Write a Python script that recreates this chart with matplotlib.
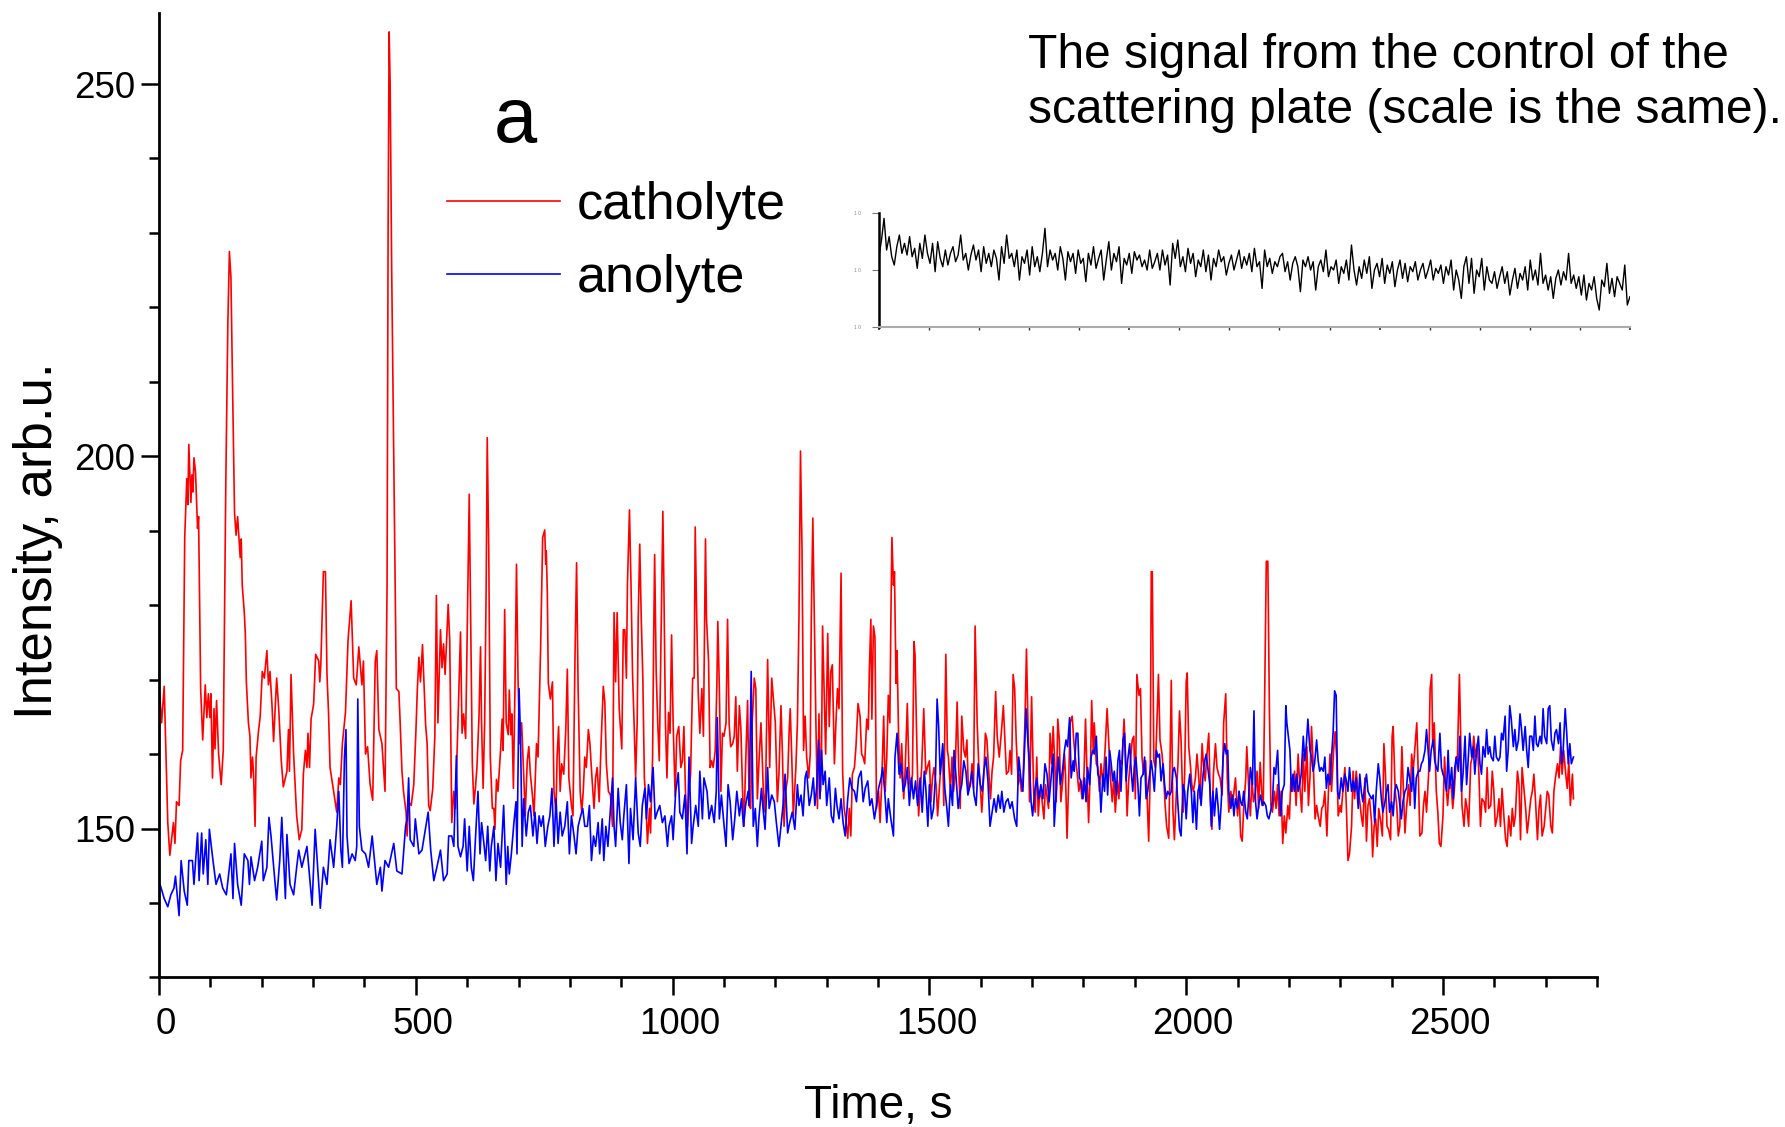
import matplotlib
matplotlib.use("Agg")
import matplotlib.pyplot as plt
import matplotlib.transforms as mtransforms
import numpy as np
from matplotlib.ticker import MultipleLocator

# catholyte (red) in five stretches of time
cath_t1 = [1, 5, 10, 17, 21, 28, 31, 34, 39, 42,
           46, 50, 54, 56, 58, 62, 64, 66, 68, 71,
           75, 77, 81, 85, 90, 93, 96, 99, 101, 104,
           107, 109, 112, 116, 121, 125, 130, 134, 137, 140,
           143, 147, 150, 153, 158, 160, 162, 166, 168, 170,
           174, 177, 179, 182, 184, 187, 189, 194, 197, 201,
           205, 210, 213, 216, 220, 223, 229, 233, 238, 242,
           249, 252, 254, 257, 262, 268, 273, 278, 281, 285,
           288, 290, 293, 296, 301, 305, 311, 313, 315, 320,
           324, 327, 330, 333, 340, 346, 350, 353, 357, 363,
           368, 374, 379, 384, 389, 395, 398, 402, 406, 411,
           416, 421, 424, 428, 434, 440, 444, 446, 448, 450,
           453, 457, 462, 467, 469, 473, 476, 481, 483, 486,
           491, 496, 500, 503, 506, 509, 513, 519, 522, 525,
           528, 533, 537, 540, 543, 548, 551, 554, 557, 563,
           566, 570, 574]
cath_v1 = [168.4, 164.2, 169.1, 150.8, 146.4, 150.8, 148.0, 153.6, 153.1, 159.1,
           160.5, 189.1, 197.0, 193.5, 201.6, 193.8, 197.5, 195.2, 199.8, 197.9,
           190.3, 191.9, 168.8, 161.9, 169.3, 164.9, 168.1, 164.9, 168.1, 156.8,
           166.1, 160.7, 167.2, 160.0, 155.9, 160.5, 196.5, 218.0, 227.5, 224.0,
           210.0, 192.4, 189.4, 191.9, 186.4, 188.9, 182.7, 179.0, 176.2, 169.7,
           164.2, 162.4, 156.8, 159.6, 157.3, 150.3, 159.6, 163.3, 165.1, 171.1,
           170.2, 173.9, 169.3, 171.1, 166.5, 161.7, 170.2, 166.1, 159.1, 155.6,
           157.7, 163.3, 157.7, 170.7, 160.0, 151.7, 148.5, 149.9, 157.3, 160.5,
           158.2, 162.8, 158.2, 164.7, 166.7, 173.4, 172.5, 169.7, 172.0, 184.5,
           184.5, 170.7, 165.6, 158.2, 155.0, 152.2, 156.8, 155.9, 161.4, 165.6,
           175.3, 180.6, 170.2, 169.3, 174.4, 169.3, 172.5, 160.0, 161.0, 155.9,
           153.8, 172.5, 173.9, 163.3, 161.4, 155.0, 182.7, 230.0, 257.0, 250.0,
           225.0, 200.0, 168.8, 168.4, 165.1, 157.7, 155.0, 152.2, 149.0, 153.6,
           153.1, 155.9, 162.8, 168.8, 173.0, 169.7, 174.7, 164.0, 161.4, 153.1,
           152.4, 155.4, 162.4, 181.3, 164.2, 176.7, 171.6, 174.8, 170.7, 180.1,
           175.3, 150.8, 155.0]

cath_t2 = [577, 582, 587, 590, 593, 597, 600, 604, 606, 610,
           613, 616, 619, 623, 626, 628, 631, 634, 637, 639,
           642, 645, 649, 652, 654, 657, 660, 665, 668, 670,
           673, 676, 680, 682, 685, 687, 690, 693, 696, 699,
           702, 706, 710, 713, 717, 720, 723, 727, 730, 735,
           738, 743, 747, 751, 753, 754, 756, 758, 762, 766,
           769, 773, 775, 778, 781, 784, 788, 792, 795, 798,
           803, 806, 810, 813, 816, 820, 823, 826, 829, 832,
           836, 839, 843, 847, 850, 853, 857, 861, 865, 868,
           871, 875, 879, 883, 886, 889, 892, 896, 899, 901,
           904, 907, 910, 912, 916, 919, 922, 925, 928, 931,
           933, 936, 939, 942, 945, 948, 951, 955, 957, 961,
           963, 965, 968, 971, 974, 977, 981, 983, 986, 989,
           992, 995, 998, 1001, 1005, 1008, 1012, 1016, 1019, 1022,
           1025, 1029, 1032, 1035, 1039, 1042, 1044, 1047, 1050, 1053,
           1057, 1060, 1064, 1066, 1070, 1073, 1076, 1079, 1083, 1086,
           1088, 1091, 1094, 1097, 1100, 1104, 1107, 1110, 1113, 1117,
           1120, 1123, 1126, 1130, 1133, 1136, 1139, 1142, 1146, 1149]
cath_v2 = [152.7, 164.2, 176.4, 162.8, 165.4, 162.1, 175.8, 194.9, 182.7, 158.7,
           153.3, 155.4, 158.2, 165.1, 174.4, 164.2, 155.4, 164.2, 182.7, 202.5,
           187.3, 159.6, 152.7, 152.7, 149.9, 156.6, 155.0, 160.5, 164.7, 160.5,
           179.4, 164.2, 162.6, 168.6, 162.6, 165.4, 155.4, 168.8, 185.5, 170.2,
           161.4, 164.2, 157.3, 151.7, 159.1, 161.0, 157.3, 154.5, 151.7, 161.4,
           159.6, 174.4, 189.1, 190.1, 185.5, 187.3, 181.8, 169.5, 167.4, 169.7,
           155.0, 152.2, 159.6, 163.7, 155.0, 158.7, 157.3, 163.3, 171.4, 156.8,
           153.1, 151.7, 173.4, 185.7, 168.8, 155.0, 152.2, 155.0, 159.6, 158.2,
           163.3, 161.4, 156.8, 152.7, 156.8, 158.2, 153.6, 161.9, 169.1, 167.0,
           158.7, 155.0, 154.5, 150.3, 179.0, 169.7, 179.0, 166.1, 162.8, 160.7,
           176.7, 176.7, 170.2, 182.7, 192.8, 182.7, 170.7, 164.2, 156.8, 164.2,
           178.1, 188.2, 178.1, 170.2, 156.8, 153.6, 148.0, 152.7, 149.4, 159.6,
           174.8, 186.8, 171.1, 164.2, 159.1, 173.4, 192.6, 182.7, 164.2, 156.8,
           165.6, 162.8, 176.0, 164.2, 154.3, 162.4, 163.7, 158.2, 159.1, 163.7,
           155.0, 150.3, 155.0, 157.3, 170.2, 170.2, 190.5, 178.1, 167.9, 162.8,
           168.8, 162.4, 188.9, 178.1, 172.5, 158.2, 159.1, 158.2, 160.5, 168.8,
           177.8, 168.8, 155.0, 162.8, 162.4, 164.2, 178.1, 164.2, 161.0, 161.4,
           162.4, 167.7, 157.7, 166.5, 163.3, 155.4, 150.3, 158.2, 167.2, 153.1]

cath_t3 = [1152, 1155, 1159, 1162, 1165, 1168, 1172, 1174, 1178, 1181,
           1185, 1189, 1193, 1196, 1200, 1204, 1207, 1211, 1214, 1217,
           1220, 1224, 1227, 1229, 1232, 1235, 1240, 1243, 1246, 1249,
           1252, 1255, 1258, 1261, 1265, 1268, 1270, 1273, 1276, 1279,
           1282, 1285, 1288, 1290, 1292, 1296, 1298, 1302, 1305, 1308,
           1311, 1315, 1318, 1321, 1324, 1328, 1331, 1334, 1337, 1341,
           1344, 1347, 1350, 1354, 1357, 1361, 1365, 1368, 1371, 1374,
           1378, 1381, 1383, 1386, 1388, 1391, 1394, 1397, 1401, 1404,
           1407, 1411, 1414, 1417, 1420, 1423, 1425, 1427, 1430, 1432,
           1435, 1437, 1440, 1443, 1446, 1450, 1453, 1457, 1460, 1463,
           1467, 1470, 1472, 1476, 1479, 1482, 1485, 1489, 1493, 1496,
           1500, 1503, 1506, 1509, 1513, 1516, 1519, 1522, 1526, 1528,
           1532, 1535, 1537, 1541, 1544, 1547, 1550, 1554, 1557, 1560,
           1563, 1567, 1570, 1573, 1576, 1580, 1583, 1586, 1589, 1593,
           1596, 1599, 1602, 1606, 1609, 1612, 1615, 1619, 1622, 1625,
           1629, 1632, 1636, 1640, 1644, 1647, 1650, 1654, 1657, 1660,
           1663, 1666, 1669, 1673, 1676, 1679, 1682, 1686, 1689, 1692,
           1695, 1699, 1703, 1706, 1709, 1712, 1715, 1719, 1723, 1726]
cath_v3 = [152.7, 164.2, 170.2, 168.8, 154.0, 158.7, 164.2, 160.5, 152.2, 155.0,
           172.7, 158.2, 170.2, 167.7, 164.2, 153.6, 157.3, 166.5, 159.6, 150.3,
           155.0, 156.8, 163.3, 166.1, 159.6, 151.7, 158.2, 164.2, 178.1, 200.7,
           187.3, 160.5, 165.1, 159.6, 156.8, 160.0, 178.1, 191.7, 178.1, 164.2,
           152.7, 165.4, 155.0, 160.5, 177.2, 166.1, 160.0, 176.2, 163.7, 171.1,
           172.0, 158.7, 164.2, 168.8, 166.1, 184.3, 157.7, 152.7, 151.3, 148.7,
           152.7, 149.0, 157.3, 158.2, 161.0, 166.8, 165.1, 160.0, 159.6, 158.7,
           164.7, 163.3, 171.1, 178.1, 164.7, 177.2, 175.7, 152.7, 155.0, 150.8,
           155.9, 165.1, 155.0, 159.6, 167.9, 164.2, 178.1, 189.1, 182.7, 184.5,
           169.5, 173.9, 162.4, 156.8, 161.4, 154.0, 158.2, 166.8, 158.2, 155.0,
           157.3, 175.1, 173.4, 159.6, 151.7, 155.0, 158.2, 166.1, 157.3, 158.2,
           159.1, 153.6, 156.8, 158.2, 155.9, 151.7, 155.0, 158.2, 160.0, 153.1,
           173.4, 160.5, 159.6, 155.0, 159.6, 155.0, 157.3, 167.0, 158.2, 152.7,
           165.1, 160.5, 159.6, 161.9, 155.0, 155.9, 158.7, 155.4, 177.2, 164.2,
           158.7, 155.9, 152.2, 157.3, 162.8, 161.9, 158.2, 154.0, 157.7, 159.6,
           168.4, 162.4, 159.6, 162.8, 166.5, 161.9, 157.3, 157.7, 160.5, 157.3,
           170.7, 168.8, 161.9, 155.9, 157.3, 155.0, 155.9, 164.2, 174.1, 164.2,
           153.6, 167.7, 155.0, 152.2, 159.6, 151.7, 155.0, 154.0, 151.3, 155.9]

cath_t4 = [1732, 1735, 1738, 1741, 1745, 1747, 1750, 1753, 1756, 1760,
           1763, 1765, 1768, 1771, 1774, 1778, 1781, 1784, 1788, 1791,
           1794, 1797, 1801, 1804, 1807, 1810, 1814, 1816, 1819, 1821,
           1825, 1828, 1831, 1834, 1838, 1842, 1846, 1849, 1852, 1856,
           1859, 1862, 1866, 1869, 1872, 1875, 1879, 1882, 1885, 1888,
           1892, 1895, 1898, 1901, 1904, 1908, 1911, 1914, 1917, 1921,
           1924, 1927, 1930, 1932, 1934, 1937, 1940, 1943, 1946, 1949,
           1953, 1956, 1959, 1962, 1966, 1968, 1971, 1974, 1977, 1981,
           1984, 1987, 1990, 1994, 1997, 2000, 2002, 2005, 2008, 2011,
           2014, 2018, 2021, 2024, 2027, 2031, 2034, 2037, 2040, 2044,
           2047, 2050, 2053, 2057, 2060, 2063, 2066, 2070, 2073, 2077,
           2080, 2083, 2087, 2090, 2093, 2096, 2100, 2103, 2106, 2109,
           2112, 2116, 2118, 2122, 2125, 2128, 2131, 2135, 2138, 2141,
           2144, 2147, 2150, 2153, 2156, 2159, 2162, 2165, 2168, 2172,
           2175, 2178, 2181, 2185, 2188, 2191, 2194, 2198, 2201, 2204,
           2207, 2211, 2214, 2218, 2221, 2225, 2228, 2231, 2235, 2238,
           2241, 2244, 2248, 2251, 2254, 2257, 2261, 2264, 2267, 2270,
           2274, 2277, 2280, 2283, 2287, 2290, 2293, 2296, 2300]
cath_v4 = [152.7, 162.8, 158.7, 163.7, 157.3, 153.6, 164.7, 161.9, 153.6, 156.8,
           160.0, 157.3, 148.7, 155.9, 164.2, 165.1, 161.9, 159.6, 157.3, 155.0,
           156.4, 154.0, 157.3, 164.7, 157.3, 150.8, 159.6, 167.2, 160.5, 164.2,
           158.7, 158.2, 155.0, 158.7, 155.9, 160.5, 166.1, 161.9, 157.3, 153.6,
           156.8, 152.2, 156.4, 154.0, 159.1, 158.7, 164.7, 159.6, 151.7, 156.4,
           159.6, 161.9, 162.4, 154.0, 170.7, 167.9, 168.8, 159.6, 157.3, 159.1,
           154.0, 148.3, 157.3, 184.5, 184.5, 159.1, 158.2, 164.2, 170.7, 161.9,
           160.0, 157.3, 153.1, 150.3, 148.7, 156.4, 169.9, 152.7, 148.5, 155.0,
           158.7, 165.8, 161.9, 152.2, 157.3, 169.7, 170.9, 161.0, 158.7, 155.9,
           155.0, 156.8, 160.0, 157.3, 154.0, 161.4, 158.2, 156.4, 159.6, 162.8,
           154.0, 149.9, 157.3, 161.4, 158.2, 157.3, 156.8, 154.5, 164.2, 168.1,
           156.8, 152.2, 155.0, 153.1, 155.0, 156.8, 151.7, 155.0, 149.0, 148.3,
           152.7, 156.8, 161.0, 155.0, 151.7, 156.8, 153.6, 155.0, 157.7, 152.7,
           158.9, 155.0, 153.1, 168.8, 185.9, 185.9, 166.1, 153.1, 152.2, 155.0,
           152.7, 155.9, 151.7, 155.0, 148.0, 151.7, 149.4, 153.1, 151.3, 156.8,
           155.0, 157.7, 153.1, 160.0, 155.9, 152.2, 160.0, 155.0, 161.0, 153.1,
           156.8, 163.7, 157.7, 151.3, 153.1, 151.7, 150.3, 152.7, 153.1, 155.0,
           149.0, 155.0, 160.0, 155.0, 160.5, 163.0, 159.6, 151.7, 153.1]

cath_t5 = [2302, 2305, 2309, 2312, 2315, 2318, 2322, 2325, 2328, 2331,
           2335, 2338, 2341, 2344, 2348, 2351, 2354, 2357, 2361, 2363,
           2366, 2369, 2372, 2375, 2379, 2382, 2385, 2388, 2391, 2394,
           2398, 2401, 2403, 2407, 2410, 2413, 2416, 2420, 2423, 2426,
           2429, 2433, 2436, 2439, 2442, 2446, 2449, 2452, 2455, 2459,
           2462, 2465, 2468, 2472, 2475, 2478, 2480, 2483, 2487, 2490,
           2493, 2496, 2500, 2503, 2506, 2509, 2513, 2516, 2519, 2522,
           2526, 2528, 2532, 2534, 2537, 2541, 2544, 2547, 2550, 2554,
           2557, 2560, 2563, 2567, 2570, 2573, 2576, 2580, 2583, 2586,
           2589, 2593, 2596, 2599, 2602, 2606, 2609, 2612, 2615, 2619,
           2622, 2625, 2628, 2632, 2635, 2638, 2641, 2645, 2648, 2651,
           2654, 2658, 2661, 2664, 2667, 2671, 2674, 2677, 2680, 2684,
           2687, 2690, 2693, 2697, 2700, 2703, 2706, 2710, 2713, 2716,
           2719, 2723, 2726, 2729, 2732, 2735, 2739, 2742, 2745, 2748,
           2752, 2754]
cath_v5 = [152.2, 155.0, 158.2, 152.7, 145.7, 146.6, 150.3, 157.7, 154.0, 157.7,
           155.0, 153.6, 151.7, 150.3, 156.8, 148.3, 153.1, 154.0, 150.8, 146.2,
           150.3, 151.3, 147.6, 152.7, 150.8, 149.0, 161.4, 157.3, 150.3, 149.9,
           148.5, 162.4, 163.7, 155.0, 153.1, 149.0, 150.3, 161.0, 155.0, 149.4,
           152.7, 155.9, 153.1, 160.0, 157.7, 161.4, 164.2, 157.3, 149.0, 149.4,
           153.1, 155.0, 152.2, 157.3, 168.8, 170.7, 161.4, 164.2, 155.0, 152.2,
           148.0, 147.6, 151.7, 159.6, 155.9, 153.1, 156.8, 155.9, 152.7, 155.0,
           159.6, 159.1, 170.7, 164.2, 153.1, 150.3, 154.0, 152.7, 150.3, 158.7,
           159.6, 162.4, 159.6, 161.4, 157.3, 150.3, 154.0, 153.6, 152.2, 158.2,
           152.7, 153.1, 157.7, 155.0, 150.3, 151.7, 154.0, 150.3, 155.4, 151.3,
           148.5, 147.6, 151.7, 149.0, 152.7, 150.3, 151.7, 157.7, 155.9, 148.5,
           158.2, 155.0, 152.7, 149.4, 151.3, 154.0, 155.0, 157.3, 154.0, 148.5,
           152.7, 154.5, 149.0, 150.3, 152.7, 155.0, 154.5, 150.3, 149.4, 155.0,
           156.8, 158.7, 156.8, 161.0, 157.3, 160.5, 157.3, 155.4, 159.1, 153.1,
           157.3, 154.0]

# anolyte (blue)
anol_t1 = [2, 10, 17, 23, 29, 32, 39, 43, 49, 55,
           58, 65, 68, 75, 78, 83, 86, 91, 95, 98,
           105, 111, 118, 124, 131, 140, 144, 147, 153, 160,
           166, 173, 176, 179, 186, 192, 200, 203, 210, 214,
           218, 225, 229, 235, 239, 246, 249, 255, 262, 268,
           272, 278, 288, 298, 304, 314, 320, 327, 333, 340,
           346, 350, 354, 357, 361, 364, 366, 370, 376, 382,
           385, 387, 390, 395, 402, 408, 415, 424, 431, 434,
           440, 447, 457, 463, 473, 480, 483, 486, 489, 496,
           499, 506, 512, 524, 529, 535, 541, 548, 554, 561,
           564, 570, 574]
anol_v1 = [142.5, 140.6, 139.5, 141.1, 142.0, 143.6, 138.3, 145.7, 141.6, 139.7,
           145.7, 145.7, 142.5, 149.4, 143.0, 149.4, 143.9, 148.5, 142.5, 149.9,
           145.7, 142.5, 143.9, 142.0, 141.1, 146.6, 140.6, 148.0, 142.5, 139.7,
           146.6, 145.7, 142.5, 146.2, 143.0, 144.8, 148.3, 143.0, 144.8, 151.5,
           149.0, 143.4, 140.4, 145.7, 151.5, 140.6, 149.2, 142.5, 141.1, 144.8,
           147.1, 144.8, 147.6, 139.7, 149.9, 139.3, 144.8, 142.5, 148.5, 144.8,
           150.3, 155.0, 147.1, 144.8, 159.6, 163.3, 149.0, 145.3, 146.6, 145.7,
           147.6, 167.4, 150.3, 147.1, 146.6, 144.8, 149.0, 142.5, 144.8, 141.6,
           145.7, 144.8, 148.0, 144.3, 143.9, 150.3, 151.3, 156.8, 148.5, 147.6,
           151.3, 146.6, 147.1, 152.2, 147.1, 143.0, 144.8, 147.1, 143.0, 143.9,
           149.0, 149.0, 147.6]

anol_t2 = [579, 582, 587, 592, 595, 600, 604, 608, 612, 616,
           621, 625, 628, 631, 636, 640, 644, 647, 652, 656,
           660, 665, 668, 671, 676, 679, 682, 686, 691, 695,
           697, 701, 704, 707, 710, 715, 719, 723, 728, 732,
           736, 740, 744, 748, 752, 757, 761, 765, 769, 773,
           777, 781, 785, 790, 795, 799, 803, 808, 812, 816,
           821, 825, 829, 834, 838, 842, 846, 850, 855, 858,
           863, 866, 870, 874, 878, 883, 886, 889, 894, 898,
           902, 905, 910, 915, 918, 923, 928, 933, 937, 941,
           946, 949, 953, 957, 962, 966, 970, 975, 980, 985,
           990, 993, 998, 1001, 1006, 1011, 1014, 1019, 1024, 1028,
           1032, 1037, 1040, 1045, 1050, 1053, 1058, 1061, 1067, 1071,
           1076, 1081, 1085, 1087, 1091, 1095, 1099, 1104, 1108, 1112,
           1117, 1121, 1125, 1130, 1134, 1138, 1142, 1147]
anol_v2 = [159.8, 147.6, 146.2, 147.6, 151.3, 144.3, 150.3, 144.8, 143.0, 148.5,
           155.0, 146.6, 150.8, 149.0, 145.7, 150.3, 144.3, 147.6, 150.3, 143.0,
           148.0, 144.8, 149.0, 153.1, 142.5, 147.6, 143.9, 146.6, 150.8, 153.6,
           146.6, 168.8, 161.9, 147.6, 154.0, 149.0, 152.2, 153.1, 149.0, 152.2,
           148.0, 151.7, 150.3, 151.7, 147.6, 150.3, 151.7, 155.4, 147.6, 154.0,
           148.0, 152.2, 149.0, 150.3, 153.6, 146.6, 151.7, 149.0, 146.6, 150.3,
           151.7, 152.7, 150.3, 150.3, 153.1, 145.7, 149.0, 147.6, 150.8, 146.6,
           151.3, 145.7, 150.3, 147.6, 151.7, 156.8, 150.3, 147.6, 155.4, 150.8,
           148.5, 151.7, 155.9, 145.3, 152.7, 148.5, 156.8, 149.4, 147.6, 153.1,
           155.4, 151.3, 155.9, 153.6, 158.2, 151.3, 152.2, 153.1, 150.8, 151.7,
           147.6, 150.3, 151.7, 148.5, 155.0, 157.5, 152.2, 151.3, 154.5, 146.6,
           159.6, 148.0, 150.3, 153.1, 150.3, 157.7, 151.3, 156.8, 155.0, 151.3,
           153.1, 150.8, 155.0, 164.9, 151.3, 154.5, 151.3, 147.6, 155.9, 153.6,
           148.5, 151.3, 155.0, 151.7, 154.0, 150.3, 153.1, 155.0]

anol_t3 = [1149, 1153, 1157, 1161, 1165, 1168, 1173, 1176, 1180, 1185,
           1188, 1193, 1198, 1202, 1207, 1211, 1215, 1219, 1224, 1228,
           1233, 1238, 1243, 1246, 1250, 1254, 1258, 1261, 1266, 1270,
           1274, 1277, 1281, 1284, 1287, 1290, 1293, 1297, 1300, 1305,
           1309, 1313, 1317, 1320, 1324, 1328, 1332, 1336, 1341, 1345,
           1349, 1354, 1358, 1362, 1367, 1371, 1375, 1380, 1384, 1388,
           1393, 1397, 1401, 1406, 1409, 1413, 1417, 1420, 1425, 1430,
           1433, 1437, 1441, 1445, 1449, 1453, 1457, 1461, 1465, 1469,
           1473, 1477, 1482, 1486, 1490, 1493, 1497, 1500, 1504, 1508,
           1512, 1515, 1518, 1521, 1526, 1530, 1534, 1537, 1541, 1545,
           1548, 1552, 1556, 1560, 1563, 1567, 1571, 1575, 1579, 1583,
           1587, 1591, 1595, 1599, 1603, 1606, 1610, 1614, 1618, 1622,
           1626, 1630, 1634, 1638, 1641, 1645, 1649, 1653, 1657, 1661,
           1666, 1670, 1674, 1678, 1682, 1686, 1688, 1692, 1695, 1698,
           1701, 1705, 1709, 1713, 1717, 1721, 1725]
anol_v3 = [153.1, 171.1, 150.3, 152.7, 147.6, 151.3, 155.4, 152.7, 149.9, 158.2,
           152.7, 154.5, 153.6, 150.8, 147.6, 150.3, 153.1, 157.3, 149.4, 150.8,
           152.2, 149.9, 155.9, 153.1, 154.5, 151.7, 156.8, 157.7, 153.1, 154.5,
           156.8, 153.1, 155.9, 161.9, 154.0, 160.5, 155.9, 157.7, 153.1, 156.8,
           151.7, 150.8, 155.4, 153.1, 151.3, 154.0, 150.8, 149.0, 154.0, 156.8,
           155.4, 155.0, 153.6, 156.8, 157.7, 153.6, 155.4, 156.4, 153.1, 154.0,
           151.3, 153.1, 155.4, 156.8, 158.2, 155.0, 150.8, 154.0, 151.3, 149.0,
           159.6, 162.8, 157.3, 158.7, 155.0, 155.9, 158.2, 153.1, 156.8, 154.0,
           156.4, 153.1, 156.8, 152.2, 157.7, 155.4, 150.3, 155.9, 151.3, 152.7,
           157.3, 167.4, 163.7, 157.3, 161.4, 155.4, 152.7, 150.3, 155.9, 153.1,
           160.5, 156.8, 152.7, 155.0, 155.9, 159.1, 157.7, 154.5, 155.9, 157.7,
           154.5, 153.1, 158.7, 155.9, 155.0, 157.7, 159.6, 156.4, 150.3, 152.2,
           154.0, 152.2, 154.5, 152.7, 155.0, 152.2, 153.6, 154.0, 152.7, 153.6,
           151.3, 150.3, 159.6, 156.8, 155.0, 161.9, 166.1, 161.4, 158.7, 153.6,
           151.7, 155.0, 156.8, 154.0, 155.9, 154.0, 158.7]

anol_t4 = [1729, 1733, 1737, 1741, 1743, 1747, 1751, 1755, 1759, 1763,
           1766, 1769, 1773, 1776, 1780, 1782, 1786, 1789, 1792, 1795,
           1799, 1802, 1805, 1808, 1812, 1815, 1818, 1821, 1825, 1828,
           1831, 1834, 1838, 1841, 1844, 1847, 1851, 1854, 1857, 1860,
           1864, 1867, 1870, 1873, 1877, 1880, 1883, 1886, 1890, 1893,
           1896, 1899, 1902, 1906, 1909, 1912, 1916, 1919, 1922, 1925,
           1929, 1932, 1935, 1938, 1942, 1945, 1948, 1951, 1955, 1958,
           1961, 1964, 1968, 1971, 1974, 1977, 1981, 1984, 1987, 1990,
           1994, 1997, 2000, 2003, 2007, 2010, 2013, 2016, 2020, 2023,
           2026, 2029, 2033, 2036, 2039, 2042, 2046, 2049, 2052, 2055,
           2059, 2062, 2065, 2068, 2072, 2075, 2078, 2081, 2083, 2087,
           2090, 2093, 2096, 2100, 2103, 2106, 2109, 2112, 2116, 2119,
           2122, 2125, 2129, 2132, 2135, 2138, 2142, 2145, 2148, 2151,
           2155, 2158, 2161, 2164, 2168, 2171, 2174, 2178, 2181, 2184,
           2187, 2191, 2194, 2196, 2199, 2202, 2205, 2208, 2211, 2215,
           2218, 2221, 2224, 2228, 2231, 2234, 2237, 2241, 2244, 2247,
           2250, 2254, 2257, 2260, 2263, 2267, 2270, 2273, 2276, 2280,
           2283, 2286, 2289, 2292, 2295, 2298]
anol_v4 = [157.3, 153.6, 156.8, 160.0, 150.3, 155.0, 159.6, 155.9, 157.7, 160.5,
           161.9, 161.0, 164.9, 156.8, 159.1, 157.7, 162.8, 162.8, 156.8, 156.4,
           154.0, 156.8, 153.6, 158.2, 155.9, 159.6, 160.5, 160.0, 162.4, 157.3,
           156.8, 152.2, 157.3, 155.0, 159.6, 154.5, 160.5, 158.7, 156.4, 157.7,
           154.5, 159.1, 160.5, 155.0, 161.9, 162.8, 156.4, 159.1, 161.4, 157.7,
           155.0, 158.2, 159.6, 155.9, 151.7, 156.8, 157.3, 159.6, 154.0, 155.0,
           157.3, 159.1, 157.3, 155.0, 160.5, 159.6, 160.0, 156.4, 158.7, 155.9,
           154.0, 155.0, 154.5, 155.0, 157.7, 158.2, 156.8, 153.1, 149.9, 149.0,
           155.9, 155.0, 151.3, 155.0, 157.3, 155.0, 150.8, 155.0, 149.9, 155.0,
           155.9, 153.1, 157.3, 159.1, 160.0, 158.2, 155.9, 150.3, 155.0, 151.7,
           155.4, 153.1, 149.9, 153.1, 159.6, 161.4, 160.0, 160.5, 155.0, 152.7,
           154.5, 151.7, 154.0, 152.7, 155.0, 153.6, 153.1, 155.0, 152.2, 151.3,
           154.5, 158.2, 155.9, 165.8, 153.6, 151.3, 153.6, 154.5, 153.1, 153.6,
           153.1, 151.7, 151.3, 152.2, 153.6, 158.2, 157.3, 160.5, 155.0, 151.7,
           155.0, 155.9, 166.5, 164.2, 162.4, 160.5, 155.0, 157.3, 155.0, 157.3,
           155.0, 155.9, 157.3, 162.4, 159.1, 161.4, 164.7, 160.5, 159.6, 157.7,
           158.7, 161.9, 159.1, 157.7, 158.2, 157.7, 159.6, 155.4, 157.3, 155.9,
           159.6, 162.8, 168.5, 167.9, 155.0, 154.0]

anol_t5 = [2302, 2305, 2309, 2312, 2315, 2318, 2322, 2325, 2328, 2331,
           2335, 2338, 2341, 2344, 2348, 2351, 2354, 2357, 2361, 2364,
           2367, 2370, 2374, 2377, 2380, 2383, 2387, 2390, 2393, 2396,
           2400, 2403, 2406, 2409, 2413, 2416, 2419, 2422, 2426, 2429,
           2432, 2435, 2439, 2442, 2445, 2448, 2452, 2455, 2458, 2461,
           2465, 2468, 2471, 2474, 2477, 2481, 2484, 2487, 2490, 2494,
           2497, 2500, 2503, 2507, 2510, 2513, 2517, 2520, 2523, 2526,
           2530, 2533, 2536, 2539, 2543, 2546, 2549, 2552, 2556, 2559,
           2562, 2565, 2569, 2572, 2575, 2578, 2582, 2585, 2588, 2591,
           2594, 2598, 2601, 2604, 2608, 2611, 2614, 2617, 2621, 2624,
           2627, 2630, 2633, 2637, 2640, 2643, 2647, 2650, 2653, 2656,
           2660, 2663, 2666, 2669, 2673, 2676, 2679, 2682, 2685, 2689,
           2692, 2695, 2698, 2702, 2705, 2708, 2711, 2715, 2718, 2721,
           2725, 2728, 2731, 2734, 2738, 2741, 2744, 2747, 2750, 2754]
anol_v5 = [156.8, 155.0, 157.3, 156.4, 155.0, 158.2, 155.0, 156.4, 155.0, 156.8,
           152.7, 157.3, 155.0, 153.6, 155.9, 157.3, 155.0, 154.5, 154.0, 154.5,
           150.8, 155.0, 158.7, 156.8, 154.0, 152.2, 153.6, 155.0, 155.9, 152.2,
           153.6, 151.7, 155.0, 155.9, 155.0, 153.1, 151.3, 153.6, 155.0, 155.4,
           158.2, 156.8, 155.0, 158.2, 152.7, 156.8, 157.7, 157.7, 158.7, 159.1,
           160.5, 163.3, 160.5, 157.7, 160.5, 161.9, 159.1, 158.2, 157.7, 162.8,
           158.2, 157.3, 156.8, 155.0, 160.5, 155.4, 158.2, 154.0, 158.2, 159.6,
           157.7, 162.4, 155.0, 157.3, 162.4, 155.9, 159.1, 162.8, 159.6, 161.0,
           157.3, 160.0, 162.4, 158.7, 157.3, 161.0, 159.6, 163.3, 160.0, 161.0,
           159.6, 159.1, 162.4, 159.6, 159.1, 159.6, 162.8, 161.9, 165.1, 157.7,
           160.5, 166.5, 164.7, 161.0, 163.3, 160.5, 161.9, 165.4, 163.3, 160.5,
           163.7, 160.5, 158.2, 162.4, 162.4, 160.5, 165.1, 161.4, 161.0, 162.4,
           161.4, 166.1, 162.4, 161.4, 166.1, 166.5, 161.9, 160.5, 162.8, 163.3,
           161.4, 164.2, 158.7, 160.5, 166.1, 162.8, 158.7, 161.4, 158.7, 159.6]

# control signal from the scattering plate (inset), evenly sampled
plate_sig = [21.0, 26.0, 32.5, 23.0, 27.0, 21.0, 18.5, 24.0, 27.5, 22.0, 25.0, 21.5, 27.0, 21.0, 23.5, 17.5, 25.0, 20.5, 27.5, 22.0,
             19.0, 25.0, 16.5, 25.5, 20.5, 18.0, 23.0, 18.5, 22.0, 24.0, 19.5, 21.5, 27.5, 20.0, 22.0, 17.0, 21.5, 24.5, 20.0, 23.0,
             16.5, 24.0, 19.0, 22.0, 18.0, 23.0, 20.5, 14.0, 24.0, 19.0, 27.5, 20.5, 22.0, 18.0, 23.0, 14.0, 21.0, 19.0, 23.0, 15.5,
             24.0, 18.0, 21.0, 16.5, 22.0, 29.5, 18.0, 23.0, 20.0, 22.0, 17.0, 24.0, 20.5, 14.0, 22.5, 19.5, 22.0, 16.0, 23.0, 19.0,
             20.5, 13.5, 22.0, 18.5, 24.0, 17.5, 20.5, 23.0, 14.0, 20.0, 25.5, 17.0, 22.0, 19.5, 24.0, 13.0, 20.5, 18.5, 22.0, 16.0,
             22.5, 20.0, 21.5, 18.0, 20.0, 17.0, 23.0, 17.5, 19.5, 22.0, 17.0, 23.0, 18.5, 21.5, 12.5, 25.0, 20.5, 26.0, 18.0, 21.0,
             16.5, 23.5, 19.0, 22.0, 15.0, 20.0, 18.0, 23.0, 16.5, 21.5, 14.0, 20.5, 18.0, 23.0, 19.5, 21.0, 15.5, 19.0, 21.5, 17.0,
             20.0, 23.0, 17.5, 21.0, 18.5, 22.0, 16.5, 23.5, 18.0, 19.5, 11.5, 23.0, 18.0, 20.5, 16.0, 19.5, 18.0, 21.0, 22.0, 16.5,
             19.5, 14.0, 19.0, 21.0, 18.0, 10.5, 20.0, 18.0, 21.0, 17.0, 19.5, 11.0, 18.0, 20.0, 16.5, 23.0, 15.0, 18.0, 17.0, 20.0,
             13.0, 18.0, 16.0, 20.0, 14.0, 24.5, 17.0, 12.5, 18.0, 14.5, 20.0, 16.0, 21.0, 11.5, 17.0, 19.0, 15.0, 20.5, 13.0, 18.5,
             16.0, 19.5, 12.0, 17.0, 20.0, 14.5, 19.0, 13.5, 18.0, 16.5, 19.5, 14.0, 17.0, 19.0, 14.5, 17.0, 20.0, 14.0, 17.5, 16.0,
             18.5, 13.0, 18.0, 15.5, 20.0, 11.0, 17.0, 14.0, 8.5, 18.0, 21.0, 13.0, 20.5, 10.0, 17.0, 15.0, 20.5, 11.0, 18.0, 14.0,
             13.0, 16.5, 11.5, 15.0, 18.0, 13.0, 16.5, 9.5, 14.0, 17.5, 11.5, 16.0, 14.0, 18.0, 11.0, 20.0, 14.0, 17.0, 12.5, 22.0,
             13.0, 15.5, 11.0, 15.0, 8.5, 14.5, 17.0, 12.5, 16.5, 14.0, 22.0, 13.0, 15.5, 11.5, 15.0, 9.5, 15.5, 8.0, 13.0, 11.0,
             15.0, 8.5, 5.0, 14.0, 12.0, 19.0, 10.0, 14.5, 9.0, 15.0, 13.0, 11.0, 18.5, 6.5, 9.0]


def main() -> None:
    plt.rcParams["font.family"] = ["Liberation Sans", "DejaVu Sans"]

    cath_t = cath_t1 + cath_t2 + cath_t3 + cath_t4 + cath_t5
    cath_v = cath_v1 + cath_v2 + cath_v3 + cath_v4 + cath_v5
    anol_t = anol_t1 + anol_t2 + anol_t3 + anol_t4 + anol_t5
    anol_v = anol_v1 + anol_v2 + anol_v3 + anol_v4 + anol_v5

    fig = plt.figure(figsize=(17.85, 11.27), dpi=100)
    ax = fig.add_axes([0.0891, 0.1327, 0.8056, 0.8555])
    ax.plot(cath_t, cath_v, color="#ff0000", lw=1.2, label="catholyte")
    ax.plot(anol_t, anol_v, color="#0000ff", lw=1.2, label="anolyte")
    ax.set_xlim(0, 2800)
    ax.set_ylim(130, 259.5)

    for side in ("top", "right"):
        ax.spines[side].set_visible(False)
    for side in ("left", "bottom"):
        ax.spines[side].set_linewidth(2.0)

    ax.xaxis.set_major_locator(MultipleLocator(500))
    ax.xaxis.set_minor_locator(MultipleLocator(100))
    ax.yaxis.set_major_locator(MultipleLocator(50))
    ax.yaxis.set_minor_locator(MultipleLocator(10))
    ax.tick_params(which="major", length=13, width=1.8, labelsize=26.5)
    ax.tick_params(which="minor", length=7.5, width=1.8)
    ax.tick_params(axis="x", pad=8)
    ax.tick_params(axis="y", pad=4)
    # the x labels sit a little right of their ticks in the original
    shift = mtransforms.ScaledTranslation(0.07, 0, fig.dpi_scale_trans)
    for lab in ax.get_xticklabels():
        lab.set_transform(lab.get_transform() + shift)

    ax.set_xlabel("Time, s", fontsize=33)
    ax.xaxis.set_label_coords(0.5, -0.111)
    ax.set_ylabel("Intensity, arb.u.", fontsize=38)
    ax.yaxis.set_label_coords(-0.067, 0.453)

    ax.legend(loc="upper left", bbox_to_anchor=(447 / 1785, 1 - 181 / 1127),
              bbox_transform=fig.transFigure, frameon=False, fontsize=37.5,
              handlelength=2.17, handletextpad=0.33, labelspacing=0.46,
              borderpad=0, borderaxespad=0)

    fig.text(515.7 / 1785, 1 - 142 / 1127, "a", fontsize=56,
             ha="center", va="baseline")
    fig.text(1028 / 1785, 1 - 68.3 / 1127, "The signal from the control of the",
             fontsize=34.5, ha="left", va="baseline")
    fig.text(1028 / 1785, 1 - 123 / 1127, "scattering plate (scale is the same).",
             fontsize=34.5, ha="left", va="baseline")

    # inset with the control signal
    axi = fig.add_axes([0.4924, 0.7101, 0.4207, 0.1006])
    axi.plot(np.linspace(0, 15, len(plate_sig)), plate_sig, color="black", lw=1.0)
    axi.set_xlim(0, 15)
    axi.set_ylim(0, 34)
    axi.patch.set_alpha(0)
    for side in ("top", "right"):
        axi.spines[side].set_visible(False)
    axi.spines["left"].set_linewidth(1.8)
    axi.spines["left"].set_color("black")
    axi.spines["bottom"].set_linewidth(1.5)
    axi.spines["bottom"].set_color("#aaaaaa")
    axi.set_yticks([0, 17, 34])
    axi.yaxis.set_major_formatter(lambda v, pos: "1 0")
    axi.tick_params(axis="y", length=5, width=0.8, color="#777777",
                    labelsize=3.5, labelcolor="#888888", pad=8)
    axi.xaxis.set_major_locator(MultipleLocator(5))
    axi.xaxis.set_minor_locator(MultipleLocator(1))
    axi.tick_params(axis="x", which="major", length=2.5, width=1.2,
                    color="#333333", labelbottom=False)
    axi.tick_params(axis="x", which="minor", length=1.8, width=1.0,
                    color="#333333")

    fig.savefig("out.png", dpi=100)
    plt.close(fig)


if __name__ == "__main__":
    main()
